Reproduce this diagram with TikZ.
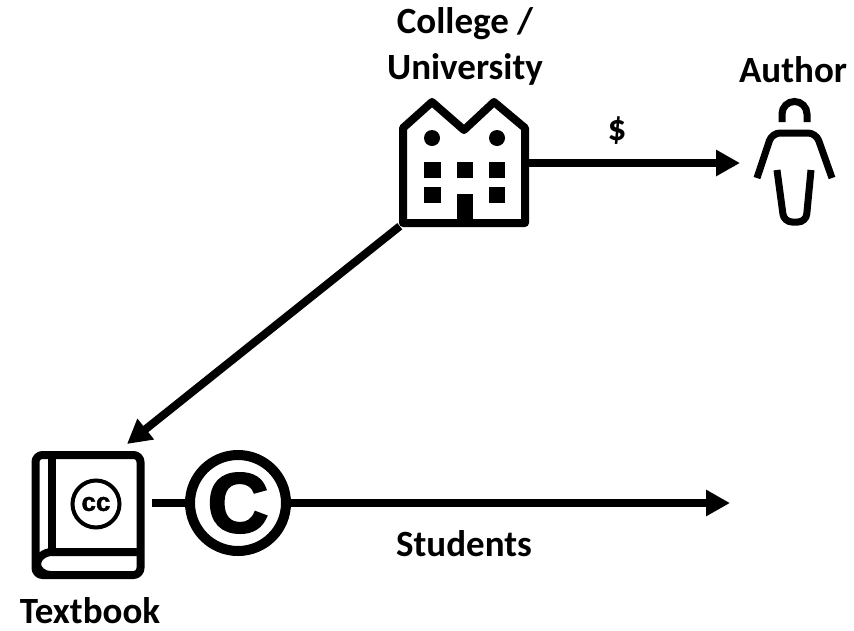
\documentclass[tikz,border=0pt]{standalone}
\usepackage{fontspec}
\setmainfont{Carlito}
\newfontfamily\heavyfont[FakeBold=3]{Liberation Sans Bold}
\newfontfamily\ccfont[FakeBold=1.5]{Liberation Sans Bold}
\usetikzlibrary{arrows.meta}
\tikzset{
  lbl/.style={font=\fontsize{37}{46}\selectfont\bfseries,align=center,inner sep=0pt},
  iconbox/.style={inner sep=0pt,minimum width=#1},
  icon/.style={line width=8pt,line join=round},
  conn/.style={line width=8pt},
  arr/.style={conn,-{Triangle[length=24pt,width=25pt]}}
}
\begin{document}
\begin{tikzpicture}[x=1pt,y=-1pt]
\useasboundingbox (0,0) rectangle (854,630);
\node[iconbox=128pt,minimum height=126pt] (college) at (464,163) {} ;
\node[iconbox=76pt,minimum height=122pt] (author) at (795,163) {} ;
\node[iconbox=118pt,minimum height=120pt] (book) at (93,503) {} ;
\node[circle,draw,line width=10pt,inner sep=0pt,minimum size=96pt] (copy) at (238,503) {} ;
\node[font=\fontsize{84}{84}\heavyfont,inner sep=0pt] (copyc) at (copy.center) {C} ;
\coordinate (authortip) at (740,163) ;
\coordinate (booktip) at (127,444) ;
\coordinate (studentsend) at (730,503) ;
\node[lbl] (collegelbl) at (465,46) {College /\\University} ;
\node[lbl] (authorlbl) at (793,70) {Author} ;
\node[lbl] (dollar) at (617,131) {\$} ;
\node[lbl] (students) at (464,544) {Students} ;
\node[lbl] (textbook) at (90,611) {Textbook} ;
% college
\draw[icon] (403,128) -- (432,102) -- (464,130) -- (494,102) -- (525,128) -- (525,223) -- (403,223) -- cycle ;
\fill (432,138) circle (8pt) ;
\fill (497,138) circle (8pt) ;
\fill (424,162) rectangle (441,178) ;
\fill (457,162) rectangle (473,178) ;
\fill (489,162) rectangle (505,178) ;
\fill (424,187) rectangle (441,203) ;
\fill (489,187) rectangle (505,203) ;
\fill (457,194) rectangle (473,223) ;
% author
\draw[line width=7pt] (782,122) -- (782,114) arc[start angle=180,end angle=0,radius=12.5pt] -- (807,122) ;
\draw[line width=7pt,rounded corners=8pt] (757,178) -- (772,133) -- (816,133) -- (832,178) ;
\draw[line width=7pt,rounded corners=8pt] (777,170) -- (784,222) -- (806,222) -- (811,170) ;
% book
\draw[icon,rounded corners=7pt] (35.5,455) rectangle (140.5,575) ;
\draw[icon] (52,455) -- (52,552) ;
\draw[icon] (140,552) -- (52,552) .. controls (44,552) and (37,558) .. (37,564) .. controls (37,570) and (44,575) .. (50,575) ;
\node[circle,draw,line width=4pt,inner sep=0pt,minimum size=47pt,font=\fontsize{26}{26}\ccfont] (cc) at (96,504) {cc} ;
% connectors
\draw[arr] (college.east) to (authortip) ;
\draw[arr] (college.south west) to (booktip) ;
\draw[conn] (book.east) to (copy.west) ;
\draw[arr] (copy.east) to (studentsend) ;
\end{tikzpicture}
\end{document}
